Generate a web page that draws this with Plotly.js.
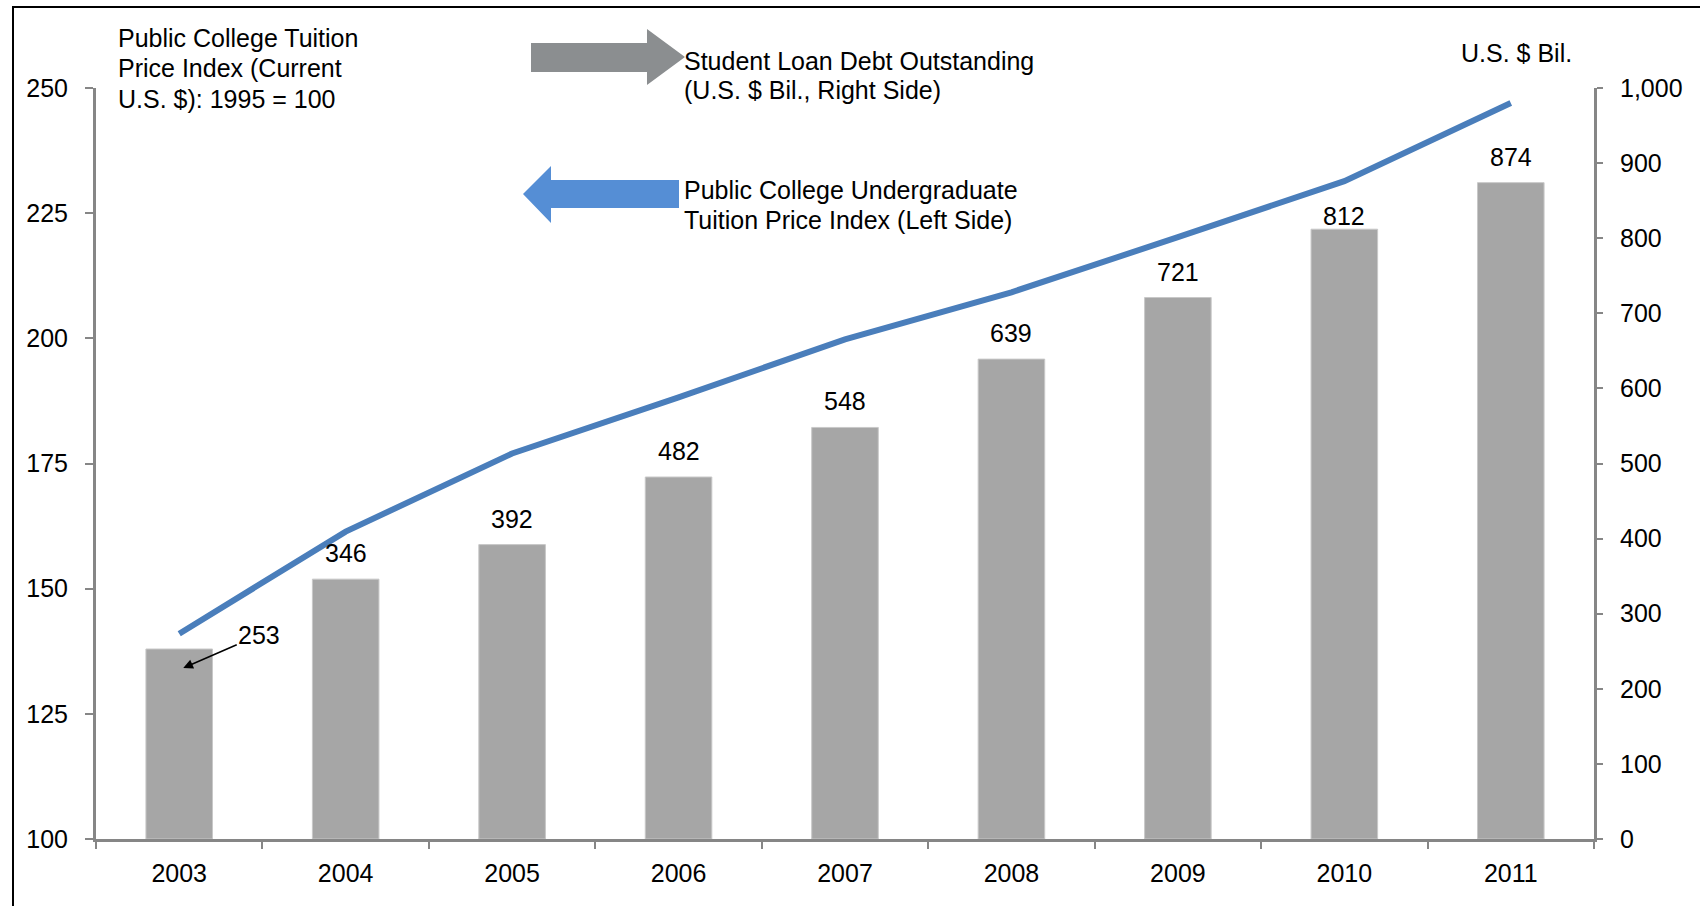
<!DOCTYPE html>
<html>
<head>
<meta charset="utf-8">
<script src="https://cdn.plot.ly/plotly-3.0.1.min.js"></script>
<style>
  html, body { margin: 0; padding: 0; background: #ffffff; }
  #wrap { position: relative; width: 1700px; height: 906px; overflow: hidden; }
  #chart { position: absolute; left: 0; top: 0; width: 1700px; height: 906px; }
  #frame { position: absolute; left: 12px; top: 6px; width: 1700px; height: 920px;
           border-top: 2px solid #000; border-left: 2px solid #000; pointer-events: none; }
</style>
</head>
<body>
<div id="wrap">
  <div id="chart"></div>
  <div id="frame"></div>
</div>
<script>
// ---- Data ----
const years = ['2003', '2004', '2005', '2006', '2007', '2008', '2009', '2010', '2011'];
const loanDebt = [253, 346, 392, 482, 548, 639, 721, 812, 874];          // U.S. $ Bil. (right axis)
const tuitionIndex = [141, 161.4, 177, 188.2, 199.8, 209.2, 220.2, 231.4, 247]; // 1995 = 100 (left axis)
const leftTicks = [100, 125, 150, 175, 200, 225, 250];
const rightTicks = [0, 100, 200, 300, 400, 500, 600, 700, 800, 900, 1000];

// ---- Layout geometry helpers ----
const W = 1700, H = 906;
const M = { l: 96, r: 106, t: 88, b: 67 };
const PW = W - M.l - M.r, PH = H - M.t - M.b;
const px = x => (x - M.l) / PW;
const py = y => (H - M.b - y) / PH;
const poly = pts => 'M' + pts.map(p => px(p[0]).toFixed(5) + ',' + py(p[1]).toFixed(5)).join(' L') + ' Z';

const FONT = 'Liberation Sans, Arial, Helvetica, sans-serif';
const FS = 25;
const TFS = 25;
const AXIS_COLOR = '#868686';

const bars = {
  type: 'bar', x: years, y: loanDebt, yaxis: 'y', width: 0.4,
  marker: { color: '#A6A6A6', line: { color: '#C8C8C8', width: 1 } },
  hoverinfo: 'x+y', showlegend: false
};
const line = {
  type: 'scatter', mode: 'lines', x: years, y: tuitionIndex, yaxis: 'y2',
  line: { color: '#4A7EBB', width: 6 }, showlegend: false
};

const annotations = [];
// bar value labels (label for 2010 sits closer to its bar, below the line)
const labelLift = { '2010': 13 };
years.forEach((yr, i) => {
  if (i === 0) {
    annotations.push({
      x: i, y: loanDebt[i], xref: 'x', yref: 'y', text: String(loanDebt[i]),
      showarrow: true, ax: 76, ay: -33, xshift: 4, yshift: -19,
      arrowhead: 2, arrowsize: 1.3, arrowwidth: 1.5, arrowcolor: '#000', standoff: 0,
      font: { family: FONT, size: FS, color: '#000' }
    });
  } else {
    annotations.push({
      x: i, y: loanDebt[i], xref: 'x', yref: 'y', text: String(loanDebt[i]),
      showarrow: false, yanchor: 'middle', yshift: labelLift[yr] || 26,
      font: { family: FONT, size: FS, color: '#000' }
    });
  }
});
// text blocks, one annotation per line for exact line spacing
function textLines(lines, xPix, yPixes, anchor) {
  lines.forEach((t, k) => annotations.push({
    xref: 'paper', yref: 'paper', x: px(xPix), y: py(yPixes[k]),
    xanchor: anchor || 'left', yanchor: 'middle', align: 'left', showarrow: false,
    text: t, font: { family: FONT, size: FS, color: '#000' }
  }));
}
textLines(['Public College Tuition', 'Price Index (Current', 'U.S. $): 1995 = 100'], 116, [38, 68.5, 99.5]);
textLines(['Student Loan Debt Outstanding', '(U.S. $ Bil., Right Side)'], 682, [61, 90]);
textLines(['Public College Undergraduate', 'Tuition Price Index (Left Side)'], 682, [190, 220]);
textLines(['U.S. $ Bil.'], 1516, [53], 'center');

const shapes = [
  { type: 'path', xref: 'paper', yref: 'paper', fillcolor: '#8B8E90', line: { width: 0 },
    path: poly([[531, 43], [647, 43], [647, 29], [685, 57], [647, 85], [647, 72], [531, 72]]) },
  { type: 'path', xref: 'paper', yref: 'paper', fillcolor: '#558ED5', line: { width: 0 },
    path: poly([[679, 180], [551, 180], [551, 166], [523, 194], [551, 223], [551, 208], [679, 208]]) }
];

const layout = {
  width: W, height: H,
  margin: M,
  paper_bgcolor: '#ffffff', plot_bgcolor: '#ffffff',
  font: { family: FONT, size: TFS, color: '#000' },
  showlegend: false,
  bargap: 0.6,
  xaxis: {
    type: 'category', categoryarray: years, categoryorder: 'array',
    range: [-0.5, years.length - 0.5], autorange: false,
    showgrid: false, zeroline: false,
    showline: true, linecolor: AXIS_COLOR, linewidth: 3,
    ticks: 'outside', tickson: 'boundaries', ticklen: 7, tickwidth: 2, tickcolor: AXIS_COLOR,
    ticklabelstandoff: 10,
    tickfont: { family: FONT, size: TFS, color: '#000' }
  },
  yaxis: {
    side: 'right', range: [0, 1000], autorange: false, tickvals: rightTicks, tickformat: ',d',
    showgrid: false, zeroline: false,
    showline: true, linecolor: AXIS_COLOR, linewidth: 3,
    ticks: 'outside', ticklen: 6, tickwidth: 2, tickcolor: AXIS_COLOR,
    ticklabelstandoff: 12,
    tickfont: { family: FONT, size: TFS, color: '#000' }
  },
  yaxis2: {
    side: 'left', overlaying: 'y', range: [100, 250], autorange: false, tickvals: leftTicks,
    showgrid: false, zeroline: false,
    showline: true, linecolor: AXIS_COLOR, linewidth: 3,
    ticks: 'outside', ticklen: 8, tickwidth: 2, tickcolor: AXIS_COLOR,
    ticklabelstandoff: 12,
    tickfont: { family: FONT, size: TFS, color: '#000' }
  },
  annotations: annotations,
  shapes: shapes
};

Plotly.newPlot('chart', [bars, line], layout, { displayModeBar: false, staticPlot: true });
</script>
</body>
</html>
